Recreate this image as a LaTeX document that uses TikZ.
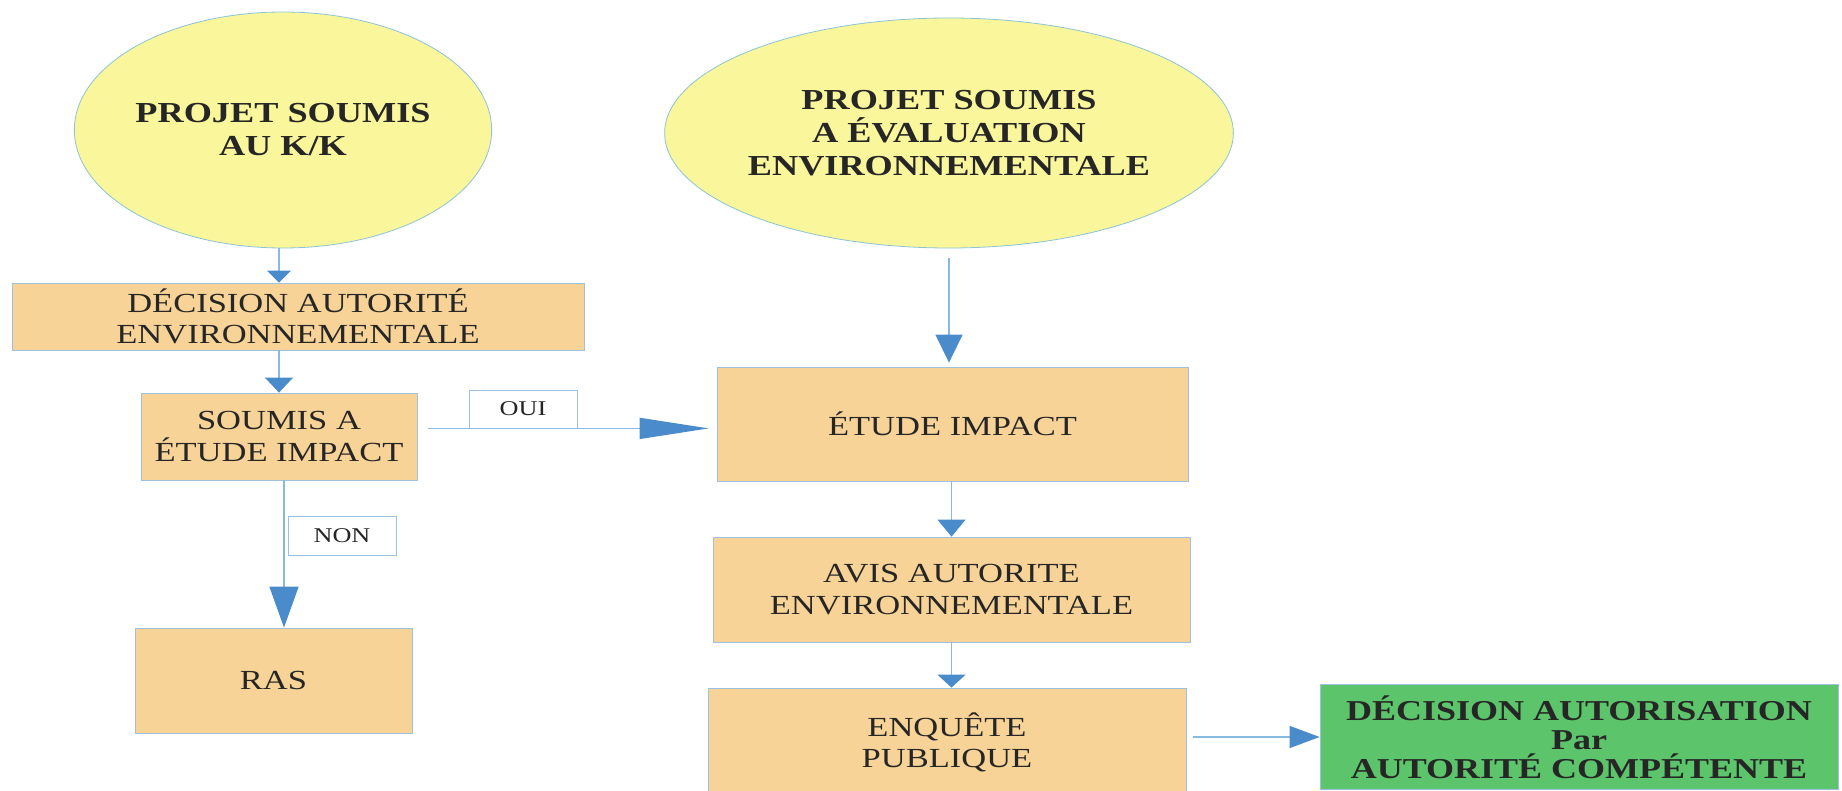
\documentclass[tikz,border=0pt]{standalone}
\usepackage{fontspec}
\setmainfont[FakeStretch=1.25]{Liberation Serif}
\usepackage{tikz}
\usetikzlibrary{shapes.geometric, arrows.meta}
\definecolor{ellipsefill}{HTML}{F9F69C}
\definecolor{ellipseline}{HTML}{8CC4D6}
\definecolor{boxfill}{HTML}{F7D397}
\definecolor{boxline}{HTML}{9DC1DE}
\definecolor{greenfill}{HTML}{5CC46A}
\definecolor{flowline}{HTML}{86BAE0}
\definecolor{tipblue}{HTML}{4A8CCB}
\definecolor{textgray}{HTML}{262626}
\tikzset{
  projet/.style={ellipse, draw=ellipseline, fill=ellipsefill, inner sep=0pt,
    align=center, text=textgray, font=\bfseries\fontsize{14.5}{16.5}\selectfont},
  etape/.style={rectangle, draw=boxline, fill=boxfill, inner sep=0pt,
    align=center, text=textgray, font=\fontsize{13.8}{15.6}\selectfont},
  choix/.style={rectangle, draw=boxline, fill=white, inner sep=0pt,
    minimum width=54pt, minimum height=19pt, text=textgray,
    font=\fontsize{10.5}{12}\selectfont},
  fleche/.style 2 args={draw=flowline, line width=0.7pt,
    -{Triangle[length=#1, width=#2, color=tipblue, fill=tipblue]}}
}

\begin{document}
\begin{tikzpicture}[x=0.5pt, y=-0.5pt]
      \useasboundingbox (0,0) rectangle (1842,791);
      % les deux projets
      \node[projet, minimum width=181pt, minimum height=118pt] (kk) at (283,130) {PROJET SOUMIS\\AU K/K};
      \node[projet, minimum width=247pt, minimum height=115pt] (evalenv) at (949,133) {PROJET SOUMIS\\A ÉVALUATION\\ENVIRONNEMENTALE};
      % colonne de gauche
      \node[etape, minimum width=286pt, minimum height=33.5pt] (decision) at (298,316.5) {DÉCISION AUTORITÉ\\ENVIRONNEMENTALE};
      \node[etape, minimum width=138pt, minimum height=43.5pt] (soumis) at (279,436.5) {SOUMIS A\\ÉTUDE IMPACT};
      \node[etape, minimum width=138.5pt, minimum height=52.5pt] (ras) at (273.5,680.5) {RAS};
      \node[choix] (oui) at (523,409) {OUI};
      \node[choix, minimum height=19.5pt] (non) at (342,535.5) {NON};
      % colonne de droite
      \node[etape, minimum width=235.5pt, minimum height=57pt] (etude) at (952.5,424) {ÉTUDE IMPACT};
      \node[etape, minimum width=238.5pt, minimum height=52.5pt] (avis) at (951.5,589.5) {AVIS AUTORITE\\ENVIRONNEMENTALE};
      \node[etape, minimum width=239pt, minimum height=54pt] (enquete) at (947,742) {ENQUÊTE\\PUBLIQUE};
      \node[etape, fill=greenfill, minimum width=259pt, minimum height=52.5pt,
        font=\bfseries\fontsize{14.4}{14.4}\selectfont] (autorisation) at (1579,737) {DÉCISION AUTORISATION\\Par\\AUTORITÉ COMPÉTENTE};
      % fleches
      \draw[fleche={6pt}{12pt}] ([xshift=-2pt]kk.south) -- ([xshift=-2pt]kk.south |- decision.north);
      \draw[fleche={7.5pt}{14pt}] (soumis.north |- decision.south) -- (soumis.north);
      \draw[fleche={20.5pt}{14.5pt}] ([xshift=2.5pt]soumis.south) -- ([xshift=2.5pt]soumis.south |- ras.north);
      \draw[fleche={34.5pt}{10.5pt}] ([xshift=5.5pt]soumis.east |- oui.south) -- ([xshift=-4pt]etude.west |- oui.south);
      \draw[fleche={14pt}{13.5pt}, shorten <=5pt, shorten >=2pt] (evalenv.south) -- (evalenv.south |- etude.north);
      \draw[fleche={8.5pt}{14pt}] (avis.north |- etude.south) -- (avis.north);
      \draw[fleche={6.5pt}{14pt}] (avis.south) -- (avis.south |- enquete.north);
      \draw[fleche={15pt}{11pt}] ([xshift=3.5pt]enquete.east |- autorisation.west) -- (autorisation.west);
\end{tikzpicture}
\end{document}
